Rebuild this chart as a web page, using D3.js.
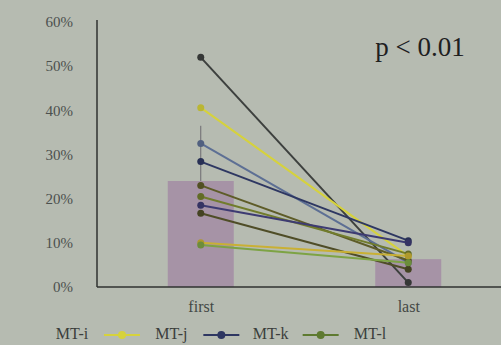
<!DOCTYPE html>
<html>
<head>
<meta charset="utf-8">
<script src="https://cdn.jsdelivr.net/npm/d3@7"></script>
<style>
	html, body { margin: 0; padding: 0; background: #b6bbb1; }
	svg { display: block; }
</style>
</head>
<body>
<svg id="chart"></svg>
<script>
// categories and tick labels
const CATEGORIES = ["first", "last"];
const Y_TICKS = [0, 0.1, 0.2, 0.3, 0.4, 0.5, 0.6];

// group means (bars) and sd of first
const BAR_MEANS = [0.24, 0.063];
const BAR_SD = [0.125, 0];

// individual subjects: value at first, value at last
const FIRST = [0.52, 0.406, 0.325, 0.284, 0.23, 0.205, 0.185, 0.167, 0.10, 0.095];
const LAST = [0.01, 0.07, 0.055, 0.105, 0.06, 0.075, 0.10, 0.04, 0.07, 0.055];
const COLORS = [
	"#3d403e", "#d6d23c", "#5d6f94", "#2e3762",
	"#5e5c28", "#717c2c", "#3d3b72", "#4f4d27",
	"#c9b034", "#7da344"
];

// legend (at the bottom edge of the photo)
const LEGEND = ["MT-i", "MT-j", "MT-k", "MT-l"];
const LEGEND_COLORS = ["#d6d23c", "#2e3762", "#5e7a30", "#4f4d27"];

const width = 501;
const height = 345;
const FONT = "'Liberation Serif', serif";

const svg = d3.select("#chart")
	.attr("width", width)
	.attr("height", height)
	.style("background", "#b6bbb1");

const xScale = d3.scalePoint(CATEGORIES, [97, 512]).padding(0.5);
const yScale = d3.scaleLinear([0, 0.6], [287, 22]);
const barWidth = 66;

// bars
svg.append("g")
	.selectAll("rect")
	.data(BAR_MEANS)
	.join("rect")
	.attr("x", (d, i) => xScale(CATEGORIES[i]) - barWidth / 2)
	.attr("y", d => yScale(d))
	.attr("width", barWidth)
	.attr("height", d => yScale(0) - yScale(d))
	.attr("fill", "#a693a6");

// error bar (upper half only)
svg.append("g")
	.selectAll("line")
	.data(BAR_MEANS.filter((d, i) => BAR_SD[i] > 0))
	.join("line")
	.attr("x1", (d, i) => xScale(CATEGORIES[i]))
	.attr("x2", (d, i) => xScale(CATEGORIES[i]))
	.attr("y1", d => yScale(d))
	.attr("y2", (d, i) => yScale(d + BAR_SD[i]))
	.attr("stroke", "#6d6a70")
	.attr("stroke-width", 1);

// y axis
svg.append("g")
	.attr("transform", `translate(97, 0)`)
	.call(d3.axisLeft(yScale).tickValues(Y_TICKS).tickFormat(d3.format(".0%")).tickSize(0).tickPadding(24))
	.call(g => g.select(".domain").attr("d", `M0,${yScale(0.6) - 2}V${yScale(0)}`).attr("stroke", "#2f3230").attr("stroke-width", 1.5))
	.call(g => g.selectAll("text")
		.style("font-family", FONT)
		.style("font-size", "15px")
		.attr("fill", "#4c504e"));

// x axis
svg.append("g")
	.attr("transform", `translate(0, ${yScale(0)})`)
	.call(d3.axisBottom(xScale).tickSize(0).tickPadding(14))
	.call(g => g.select(".domain").attr("d", `M97,0H${width}`).attr("stroke", "#2f3230").attr("stroke-width", 1.5))
	.call(g => g.selectAll("text")
		.style("font-family", FONT)
		.style("font-size", "16px")
		.attr("fill", "#444845"));

// subject lines
const subjects = d3.range(FIRST.length).map(i => ({ v: [FIRST[i], LAST[i]], color: COLORS[i] }));

const lines = svg.append("g")
	.selectAll("g")
	.data(subjects)
	.join("g");

lines.append("line")
	.attr("x1", xScale("first"))
	.attr("x2", xScale("last"))
	.attr("y1", d => yScale(d.v[0]))
	.attr("y2", d => yScale(d.v[1]))
	.attr("stroke", d => d.color)
	.attr("stroke-width", 2);

lines.selectAll("circle")
	.data(d => d.v.map(v => ({ v, color: d.color })))
	.join("circle")
	.attr("cx", (d, i) => xScale(CATEGORIES[i]))
	.attr("cy", d => yScale(d.v))
	.attr("r", 3.5)
	.attr("fill", d => d3.color(d.color).darker(0.4));

// p value
svg.append("text")
	.attr("x", 420)
	.attr("y", 56)
	.attr("text-anchor", "middle")
	.style("font-family", "'Liberation Serif', serif")
	.style("font-size", "27px")
	.attr("fill", "#1e201f")
	.text("p < 0.01");

// legend along the bottom edge
const legendX = d3.scalePoint(LEGEND, [72, 370]);
const legend = svg.append("g")
	.selectAll("g")
	.data(LEGEND)
	.join("g")
	.attr("transform", d => `translate(${legendX(d)}, 339)`);

legend.append("text")
	.attr("text-anchor", "middle")
	.style("font-family", FONT)
	.style("font-size", "16px")
	.attr("fill", "#3b3e3c")
	.text(d => d);

legend.filter((d, i) => i < LEGEND.length - 1)
	.append("line")
	.attr("x1", 32)
	.attr("x2", 68)
	.attr("y1", -4)
	.attr("y2", -4)
	.attr("stroke", (d, i) => LEGEND_COLORS[i])
	.attr("stroke-width", 2);

legend.filter((d, i) => i < LEGEND.length - 1)
	.append("circle")
	.attr("cx", 50)
	.attr("cy", -4)
	.attr("r", 4)
	.attr("fill", (d, i) => LEGEND_COLORS[i]);
</script>
</body>
</html>
